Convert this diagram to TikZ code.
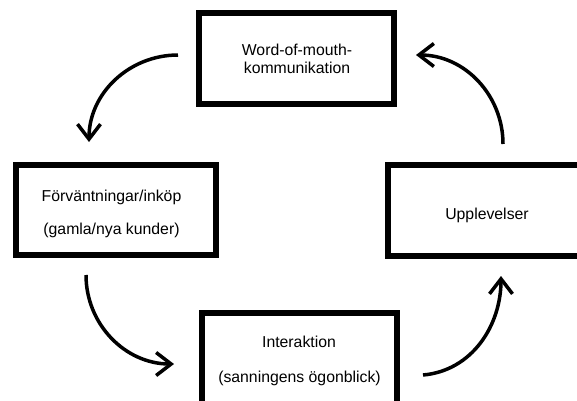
\documentclass[tikz,border=0pt]{standalone}
\usepackage{fontspec}
\setmainfont{Liberation Sans}
\usetikzlibrary{arrows.meta}
\begin{document}
\begin{tikzpicture}[x=1pt,y=1pt,
  boxstyle/.style={draw=black, line width=6pt, fill=white, inner sep=0pt, outer sep=0pt},
  txt/.style={anchor=base, inner sep=0pt, font=\fontsize{15.8}{18}\selectfont},
  flow/.style={line width=3.5pt, -{Straight Barb[length=15pt,width=23pt]}}
]
\useasboundingbox (0,0) rectangle (577,400);
\clip (0,0) rectangle (577,400);
\fill[white] (0,0) rectangle (577,400);

% boxes
\node[boxstyle, minimum width=195pt, minimum height=91pt] (wom) at (296.5,341.5) {};
\node[boxstyle, minimum width=199.5pt, minimum height=90pt] (forv) at (115.75,190.5) {};
\node[boxstyle, minimum width=195pt, minimum height=107pt] (inter) at (299.5,33.5) {};
\node[boxstyle, minimum width=202pt, minimum height=91pt] (uppl) at (489,190) {};

% texts
\node[txt] (t1) at (297,344.5) {Word-of-mouth-};
\node[txt] (t2) at (297,326.5) {kommunikation};
\node[txt] (t3) at (111.5,198.5) {Förväntningar/inköp};
\node[txt] (t4) at (111.5,165.5) {(gamla/nya kunder)};
\node[txt] (t5) at (299,52.7) {Interaktion};
\node[txt] (t6) at (299.5,17.7) {(sanningens ögonblick)};
\node[txt] (t7) at (487,180.7) {Upplevelser};

% arrow end points
\coordinate (a1s) at (178,345);
\coordinate (a1e) at (89,258);
\coordinate (a2s) at (86,125);
\coordinate (a2e) at (174,36);
\coordinate (a3s) at (423,25);
\coordinate (a3e) at (501,124);
\coordinate (a4s) at (503,256);
\coordinate (a4e) at (416,345);

\draw[flow] (a1s) to[out=180,in=90] (a1e);
\draw[flow] (a2s) to[out=-90,in=180] (a2e);
\draw[flow] (a3s) to[out=5,in=-90] (a3e);
\draw[flow] (a4s) to[out=90,in=0] (a4e);
\end{tikzpicture}
\end{document}
